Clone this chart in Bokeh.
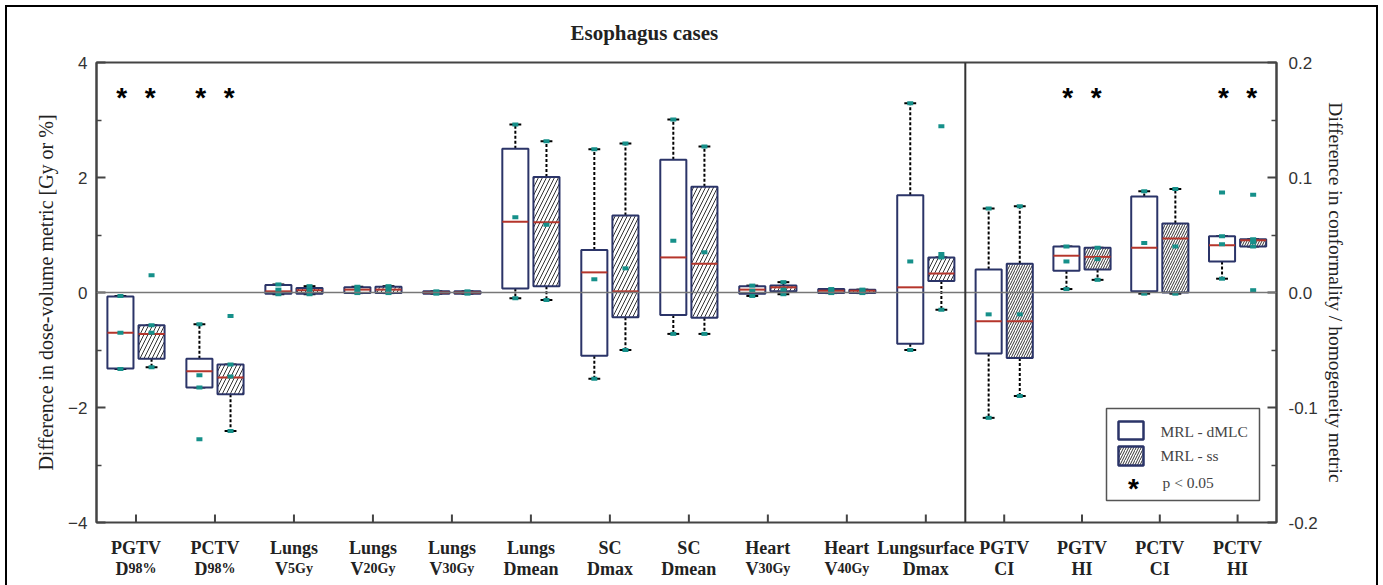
from bokeh.plotting import figure
from bokeh.layouts import column
from bokeh.models import (ColumnDataSource, Range1d, LinearAxis, FixedTicker,
                          PrintfTickFormatter, Span, InlineStyleSheet)
from bokeh.core.properties import value
from bokeh.embed import file_html
from bokeh.resources import INLINE

# ---- metrics (x categories) -------------------------------------------------
cat_top = ["PGTV", "PCTV", "Lungs", "Lungs", "Lungs", "Lungs", "SC", "SC", "Heart",
           "Heart", "Lungsurface", "PGTV", "PGTV", "PCTV", "PCTV"]
cat_main = ["D", "D", "V", "V", "V", "Dmean", "Dmax", "Dmean", "V", "V", "Dmax",
            "CI", "HI", "CI", "HI"]
cat_sub = ["98%", "98%", "5Gy", "20Gy", "30Gy", "", "", "", "30Gy", "40Gy", "",
           "", "", "", ""]
N_DV = 11  # first 11 metrics use the dose-volume axis, the last 4 the CI/HI axis

# ---- MRL - dMLC: whisker low, Q1, median, Q3, whisker high, mean --------------
dmlc_low = [-1.33, -1.65, -0.03, -0.01, -0.02, -0.10, -1.50, -0.72, -0.06, -0.01, -1.00,
            -0.109, 0.003, -0.001, 0.012]
dmlc_q1 = [-1.32, -1.65, -0.02, -0.01, -0.02, 0.07, -1.10, -0.39, -0.02, -0.01, -0.89,
           -0.053, 0.019, 0.001, 0.027]
dmlc_med = [-0.70, -1.37, 0.02, 0.05, 0.00, 1.23, 0.35, 0.61, 0.05, 0.03, 0.09,
            -0.025, 0.032, 0.039, 0.041]
dmlc_q3 = [-0.07, -1.15, 0.13, 0.09, 0.02, 2.50, 0.74, 2.31, 0.11, 0.06, 1.69,
           0.020, 0.040, 0.0835, 0.049]
dmlc_high = [-0.06, -0.55, 0.14, 0.10, 0.02, 2.92, 2.49, 3.01, 0.12, 0.06, 3.29,
             0.073, 0.040, 0.088, 0.049]
dmlc_mean = [-0.70, -1.44, 0.05, 0.05, 0.00, 1.31, 0.23, 0.90, 0.03, 0.03, 0.54,
             -0.019, 0.027, 0.043, 0.042]
dmlc_out_cat = [1, 14]
dmlc_out_val = [-2.55, 0.087]

# ---- MRL - ss ----------------------------------------------------------------
ss_low = [-1.30, -2.41, -0.03, -0.01, -0.02, -0.13, -1.00, -0.72, -0.03, -0.01, -0.30,
          -0.090, 0.011, -0.001, 0.040]
ss_q1 = [-1.15, -1.77, -0.02, -0.01, -0.02, 0.11, -0.43, -0.44, 0.02, -0.01, 0.20,
         -0.057, 0.020, 0.000, 0.040]
ss_med = [-0.72, -1.48, 0.04, 0.05, 0.00, 1.22, 0.02, 0.50, 0.09, 0.03, 0.33,
          -0.025, 0.031, 0.047, 0.0455]
ss_q3 = [-0.57, -1.25, 0.08, 0.10, 0.02, 2.01, 1.34, 1.84, 0.12, 0.05, 0.61,
         0.025, 0.039, 0.060, 0.0464]
ss_high = [-0.57, -1.25, 0.11, 0.11, 0.02, 2.63, 2.59, 2.54, 0.18, 0.05, 0.61,
           0.075, 0.039, 0.090, 0.0464]
ss_mean = [-0.70, -1.46, 0.04, 0.06, 0.00, 1.18, 0.42, 0.70, 0.05, 0.02, 0.67,
           -0.019, 0.029, 0.040, 0.044]
ss_out_cat = [0, 1, 10, 14, 14]
ss_out_val = [0.30, -0.41, 2.89, 0.085, 0.002]

significant = [0, 1, 12, 14]  # p < 0.05

# ---- styling -----------------------------------------------------------------
NAVY = "#2b3468"
RED = "#b5352b"
TEAL = "#16908a"
AXIS = "#444444"
SERIF = "Liberation Serif"
SANS = "Liberation Sans"

W, H = 1383, 585
BORDER_L, BORDER_R, BORDER_T = 96, 107, 62
FRAME_H = 460
MAIN_BOTTOM = 10                       # room under the frame
MAIN_H = BORDER_T + FRAME_H + MAIN_BOTTOM
FRAME_B_PX = BORDER_T + FRAME_H        # pixel row of the bottom frame line

RIGHT_SPAN = 3.94           # width of the CI/HI panel in category units
X_END = N_DV + RIGHT_SPAN
OFF = 0.197                 # half distance between the paired boxes
BOX_W = 0.33
CAP_W = 0.15
TICK_PX = 8


def cat_x(i):
    if i < N_DV:
        return i + 0.5
    return N_DV + RIGHT_SPAN / 4 * (i - N_DV + 0.5)


xr = Range1d(0, X_END)
p = figure(width=W, height=MAIN_H, x_range=xr, y_range=Range1d(-4, 4),
           output_backend="svg", toolbar_location=None, x_axis_location=None,
           min_border_left=BORDER_L, min_border_right=BORDER_R, min_border_top=BORDER_T,
           min_border_bottom=MAIN_BOTTOM)
p.extra_y_ranges = {"ci": Range1d(-0.2, 0.2)}
p.grid.visible = False
p.outline_line_color = AXIS
p.outline_line_width = 2
p.background_fill_color = "white"
p.border_fill_color = "white"

p.title.text = "Esophagus cases"
p.title.align = "left"
p.title.offset = 474
p.title.text_font = SERIF
p.title.text_font_size = "21px"
p.title.text_font_style = "bold"
p.title.text_color = "#222222"
p.title.standoff = 36

PX_Y = FRAME_H / 8          # pixels per unit of the dose-volume axis

# left axis
ly = p.yaxis[0]
ly.ticker = FixedTicker(ticks=[-4, -2, 0, 2, 4], minor_ticks=[-3, -1, 1, 3])
ly.axis_label = "Difference in dose-volume metric [Gy or %]"

# right axis
ry = LinearAxis(y_range_name="ci",
                ticker=FixedTicker(ticks=[-0.2, -0.1, 0.0, 0.1, 0.2],
                                   minor_ticks=[-0.15, -0.05, 0.05, 0.15]),
                formatter=PrintfTickFormatter(format="%.1f"),
                axis_label="Difference in conformality / homogeneity metric")
p.add_layout(ry, "right")

for ax in (ly, ry):
    ax.major_tick_in = 9
    ax.major_tick_out = 0
    ax.minor_tick_in = 5
    ax.minor_tick_out = 0
    ax.axis_line_color = AXIS
    ax.axis_line_width = 2
    ax.major_tick_line_color = AXIS
    ax.major_tick_line_width = 2
    ax.minor_tick_line_color = AXIS
    ax.minor_tick_line_width = 1.5
    ax.major_label_text_font = SANS
    ax.major_label_text_font_size = "17px"
    ax.major_label_text_color = "#333333"
    ax.axis_label_text_font = SERIF
    ax.axis_label_text_font_style = "normal"
    ax.axis_label_text_color = "#222222"
ly.axis_label_text_font_size = "20px"
ry.axis_label_text_font_size = "19.5px"
ry.axis_label_orientation = "vertical"
ly.major_label_standoff = 9
ly.axis_label_standoff = 8
ry.major_label_standoff = 12
ry.axis_label_standoff = 4

# category tick marks rising from the bottom frame line
tick_x = [cat_x(i) for i in range(len(cat_top))]
p.segment(x0=tick_x, x1=tick_x, y0=[-4] * len(tick_x),
          y1=[-4 + TICK_PX / PX_Y] * len(tick_x), line_color=AXIS, line_width=2)

# zero line and panel divider
p.add_layout(Span(location=0, dimension="width", line_color="#777777", line_width=1.5))
p.add_layout(Span(location=N_DV, dimension="height", line_color="#333333", line_width=2))


def draw_series(low, q1, med, q3, high, mean, out_cat, out_val, off, hatch):
    for idx, yname, hscale in ((range(0, N_DV), "default", 8),
                               (range(N_DV, len(cat_top)), "ci", 5)):
        xs = [cat_x(i) + off for i in idx]
        src = ColumnDataSource(dict(
            x=xs,
            l=[x - BOX_W / 2 for x in xs], r=[x + BOX_W / 2 for x in xs],
            cl=[x - CAP_W / 2 for x in xs], cr=[x + CAP_W / 2 for x in xs],
            low=[low[i] for i in idx], q1=[q1[i] for i in idx],
            med=[med[i] for i in idx], q3=[q3[i] for i in idx],
            high=[high[i] for i in idx], mean=[mean[i] for i in idx]))
        kw = dict(source=src, y_range_name=yname)
        p.segment(x0="x", x1="x", y0="q3", y1="high", line_color="black",
                  line_width=2, line_dash="3 2", **kw)
        p.segment(x0="x", x1="x", y0="q1", y1="low", line_color="black",
                  line_width=2, line_dash="3 2", **kw)
        p.segment(x0="cl", x1="cr", y0="high", y1="high", line_color="black", line_width=2, **kw)
        p.segment(x0="cl", x1="cr", y0="low", y1="low", line_color="black", line_width=2, **kw)
        box = dict(left="l", right="r", top="q3", bottom="q1", fill_color="white",
                   line_color=NAVY, line_width=2)
        if hatch:
            box.update(hatch_pattern=hatch, hatch_color="#333333", hatch_scale=hscale,
                       hatch_weight=1)
        p.quad(**box, **kw)
        p.segment(x0="l", x1="r", y0="med", y1="med", line_color=RED, line_width=2, **kw)
        for col in ("low", "high", "mean"):
            p.rect(x="x", y=col, width=6, height=4, width_units="screen",
                   height_units="screen", fill_color=TEAL, line_color=None, **kw)
        oc = [k for k, c in enumerate(out_cat) if c in idx]
        if oc:
            osrc = ColumnDataSource(dict(x=[cat_x(out_cat[k]) + off for k in oc],
                                         y=[out_val[k] for k in oc]))
            p.rect(x="x", y="y", width=6, height=4, width_units="screen",
                   height_units="screen", fill_color=TEAL, line_color=None,
                   source=osrc, y_range_name=yname)


draw_series(dmlc_low, dmlc_q1, dmlc_med, dmlc_q3, dmlc_high, dmlc_mean,
            dmlc_out_cat, dmlc_out_val, -OFF, None)
draw_series(ss_low, ss_q1, ss_med, ss_q3, ss_high, ss_mean,
            ss_out_cat, ss_out_val, OFF, "/")

# significance markers above both boxes
SIG_Y = 3.40
sig_x = [cat_x(i) + s * 0.18 for i in significant for s in (-1, 1)]
p.text(x=sig_x, y=[SIG_Y] * len(sig_x), text=["*"] * len(sig_x), text_align="center",
       text_baseline="middle", text_font=value(SANS), text_font_size="28px",
       text_font_style="bold", text_color="black")

# ---- legend (drawn in pixel offsets from the frame) ----------------------------
PX_X, Y0_PX = 1180 / X_END, BORDER_T + FRAME_H / 2


def fx(px):
    return (px - BORDER_L) / PX_X


def fy(py):
    return (Y0_PX - py) / PX_Y


p.quad(left=[fx(1106)], right=[fx(1259)], top=[fy(408)], bottom=[fy(500)],
       fill_color="white", line_color="#555555", line_width=1.5)
p.quad(left=[fx(1118)], right=[fx(1143)], top=[fy(421)], bottom=[fy(439)],
       fill_color="white", line_color=NAVY, line_width=2.5)
p.quad(left=[fx(1118)], right=[fx(1143)], top=[fy(446)], bottom=[fy(465)],
       fill_color="white", line_color=NAVY, line_width=2.5, hatch_pattern="/",
       hatch_color="#333333", hatch_scale=5, hatch_weight=1)
p.text(x=[fx(1133)], y=[fy(488)], text=["*"], text_align="center", text_baseline="middle",
       text_font=value(SANS), text_font_size="28px", text_font_style="bold",
       text_color="black")
p.text(x=[fx(1160), fx(1160), fx(1162)], y=[fy(431), fy(455), fy(482)],
       text=["MRL - dMLC", "MRL - ss", "p < 0.05"], text_align="left",
       text_baseline="middle", text_font=value(SERIF), text_font_size="15.5px",
       text_color="#444444")

# ---- category labels in a strip under the x axis ------------------------------
# y of the strip counts pixels downward from the bottom frame line
lab = figure(width=W, height=H - MAIN_H, x_range=xr,
             y_range=Range1d(H - FRAME_B_PX, MAIN_H - FRAME_B_PX),
             output_backend="svg", toolbar_location=None, title=None,
             x_axis_location=None, y_axis_location=None,
             min_border_left=BORDER_L, min_border_right=BORDER_R,
             min_border_top=0, min_border_bottom=0)
lab.outline_line_color = None
lab.grid.visible = False
lab.background_fill_color = "white"
lab.border_fill_color = "white"

TB = {'D': .722, 'V': .722, 'C': .722, 'I': .389, 'H': .778, 'm': .833, 'e': .444,
      'a': .5, 'n': .556, 'x': .5, '%': 1.0, 'G': .778, 'y': .5}
MAIN_PX, SUB_PX = 18, 14
ROW1, ROW2 = 25, 46


def tw(s, size):
    return sum(TB.get(c, .5) for c in s) * size


xs = [cat_x(i) for i in range(len(cat_top))]
main_w = [tw(m, MAIN_PX) for m in cat_main]
sub_w = [tw(s, SUB_PX) for s in cat_sub]
lab_font = dict(text_font=value(SERIF), text_font_style="bold", text_color="#222222",
                text_baseline="alphabetic")
lab.text(x=xs, y=[ROW1] * len(xs), text=cat_top, text_align="center",
         text_font_size=f"{MAIN_PX}px", **lab_font)
lab.text(x=xs, y=[ROW2] * len(xs), text=cat_main, text_align="left",
         x_offset=[-(m + s) / 2 for m, s in zip(main_w, sub_w)],
         text_font_size=f"{MAIN_PX}px", **lab_font)
si = [i for i in range(len(cat_sub)) if cat_sub[i]]
lab.text(x=[xs[i] for i in si], y=[ROW2] * len(si), text=[cat_sub[i] for i in si],
         text_align="left",
         x_offset=[-(main_w[i] + sub_w[i]) / 2 + main_w[i] for i in si],
         text_font_size=f"{SUB_PX}px", **lab_font)

# outer frame around the whole figure
page = column(p, lab, spacing=0, stylesheets=[InlineStyleSheet(css=(
    ":host::after{content:'';position:absolute;left:5px;top:5px;width:1373px;"
    "height:580px;border:2.5px solid #000;border-bottom:none;box-sizing:border-box;"
    "pointer-events:none;z-index:10;}"))])

open("out.html", "w").write(file_html(page, INLINE))
